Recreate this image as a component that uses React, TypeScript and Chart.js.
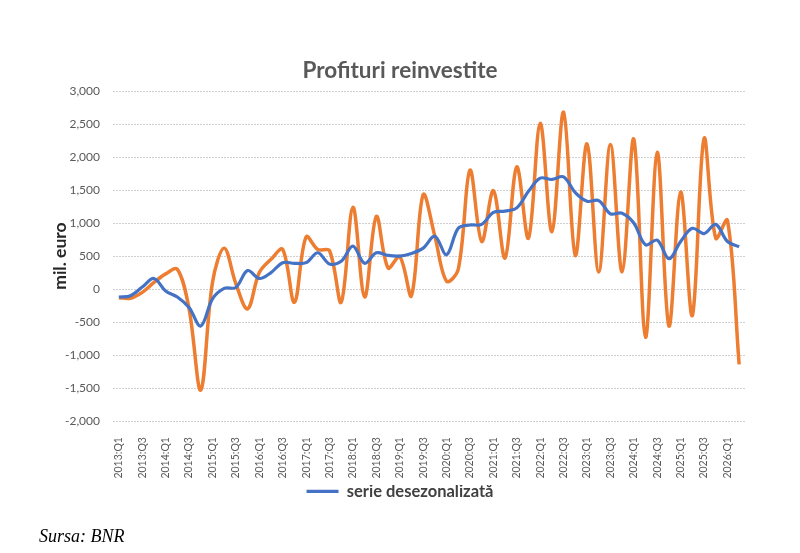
import { useEffect, useRef } from 'react';
import { Chart, registerables } from 'chart.js';

Chart.register(...registerables);

const quarters = [
  '2013:Q1', '2013:Q2', '2013:Q3', '2013:Q4',
  '2014:Q1', '2014:Q2', '2014:Q3', '2014:Q4',
  '2015:Q1', '2015:Q2', '2015:Q3', '2015:Q4',
  '2016:Q1', '2016:Q2', '2016:Q3', '2016:Q4',
  '2017:Q1', '2017:Q2', '2017:Q3', '2017:Q4',
  '2018:Q1', '2018:Q2', '2018:Q3', '2018:Q4',
  '2019:Q1', '2019:Q2', '2019:Q3', '2019:Q4',
  '2020:Q1', '2020:Q2', '2020:Q3', '2020:Q4',
  '2021:Q1', '2021:Q2', '2021:Q3', '2021:Q4',
  '2022:Q1', '2022:Q2', '2022:Q3', '2022:Q4',
  '2023:Q1', '2023:Q2', '2023:Q3', '2023:Q4',
  '2024:Q1', '2024:Q2', '2024:Q3', '2024:Q4',
  '2025:Q1', '2025:Q2', '2025:Q3', '2025:Q4',
  '2026:Q1', '2026:Q2',
];

// raw series (mil. euro)
const profituri = [
  -130, -140, -50, 100, 230, 300, -300, -1530,
  100, 620, 80, -300, 250, 450, 600, -200,
  790, 600, 580, -200, 1240, -120, 1100, 320,
  490, -100, 1430, 800, 120, 300, 1800, 720,
  1490, 470, 1850, 770, 2510, 870, 2680, 510,
  2200, 260, 2190, 260, 2270, -730, 2070, -560,
  1470, -400, 2280, 770, 1040, -1140,
];

// seasonally adjusted series
const desezonalizata = [
  -120, -100, 30, 160, -30, -120, -280, -560,
  -150, 10, 25, 280, 160, 250, 400, 390,
  400, 550, 380, 420, 650, 390, 550, 510,
  500, 540, 620, 800, 520, 920, 970, 980,
  1160, 1180, 1230, 1480, 1680, 1660, 1700, 1460,
  1330, 1340, 1140, 1150, 1000, 670, 740, 460,
  720, 920, 840, 980, 720, 640,
];

const font = 'Lato, "Open Sans", sans-serif';

export default function App() {
  const canvasRef = useRef<HTMLCanvasElement>(null);
  const chartRef = useRef<Chart | null>(null);

  useEffect(() => {
    if (!canvasRef.current) return;
    if (chartRef.current) chartRef.current.destroy();

    chartRef.current = new Chart(canvasRef.current, {
      type: 'line',
      data: {
        labels: quarters,
        datasets: [
          {
            label: 'serie desezonalizată',
            data: desezonalizata,
            borderColor: '#4472C4',
            backgroundColor: '#4472C4',
            borderWidth: 3.2,
            pointRadius: 0,
            tension: 0.35,
          },
          {
            label: 'Profituri reinvestite',
            data: profituri,
            borderColor: '#ED7D31',
            backgroundColor: '#ED7D31',
            borderWidth: 3.5,
            pointRadius: 0,
            tension: 0.35,
          },
        ],
      },
      options: {
        responsive: false,
        maintainAspectRatio: false,
        animation: false,
        layout: { padding: { left: 0, right: 0, top: 0, bottom: 43.4 } },
        plugins: {
          tooltip: { enabled: false },
          title: {
            display: true,
            text: 'Profituri reinvestite',
            color: '#595959',
            font: { family: font, size: 22.5, weight: 'bold' },
            padding: { top: 57.5, bottom: 6.5 },
          },
          legend: {
            position: 'bottom',
            labels: {
              filter: (item) => item.datasetIndex === 0,
              usePointStyle: true,
              pointStyle: 'line',
              pointStyleWidth: 32,
              boxWidth: 32,
              color: '#404040',
              font: { family: font, size: 16.5, weight: 'bold' },
              padding: -2,
            },
          },
        },
        scales: {
          x: {
            offset: true,
            grid: { display: false },
            border: { display: false },
            ticks: {
              autoSkip: false,
              minRotation: 90,
              maxRotation: 90,
              padding: 8,
              color: '#595959',
              font: { family: font, size: 10.5 },
              callback: (_v, i) => (i % 2 === 0 ? quarters[i] : ''),
            },
            afterFit: (scale) => {
              scale.height = 64;
            },
          },
          y: {
            min: -2000,
            max: 3000,
            grid: { color: '#cfcfcf', lineWidth: 1, drawTicks: false },
            border: { display: false, dash: [2, 1] },
            ticks: {
              stepSize: 500,
              padding: 13,
              color: '#595959',
              font: { family: font, size: 12 },
              callback: (v) => Number(v).toLocaleString('en-US'),
            },
            title: {
              display: true,
              text: 'mil. euro',
              color: '#262626',
              font: { family: font, size: 17.5, weight: 'bold' },
              padding: { top: 49.5, bottom: 0 },
            },
            afterFit: (scale) => {
              scale.width = 113;
            },
          },
          yRight: {
            position: 'right',
            display: true,
            grid: { display: false },
            border: { display: false },
            ticks: { display: false },
            afterFit: (scale) => {
              scale.width = 55;
            },
          },
        },
      },
    });

    return () => {
      if (chartRef.current) {
        chartRef.current.destroy();
        chartRef.current = null;
      }
    };
  }, []);

  return (
    <div style={{ position: 'absolute', left: 0, top: 0, width: 800, height: 553, background: '#fff' }}>
      <canvas ref={canvasRef} width={800} height={553} style={{ width: 800, height: 553, display: 'block' }} />
      <div
        style={{
          position: 'absolute',
          left: 39,
          top: 527,
          fontFamily: '"Liberation Serif", "Times New Roman", serif',
          fontStyle: 'italic',
          fontSize: 18,
          lineHeight: 1,
          color: '#000',
        }}
      >
        Sursa: BNR
      </div>
    </div>
  );
}
